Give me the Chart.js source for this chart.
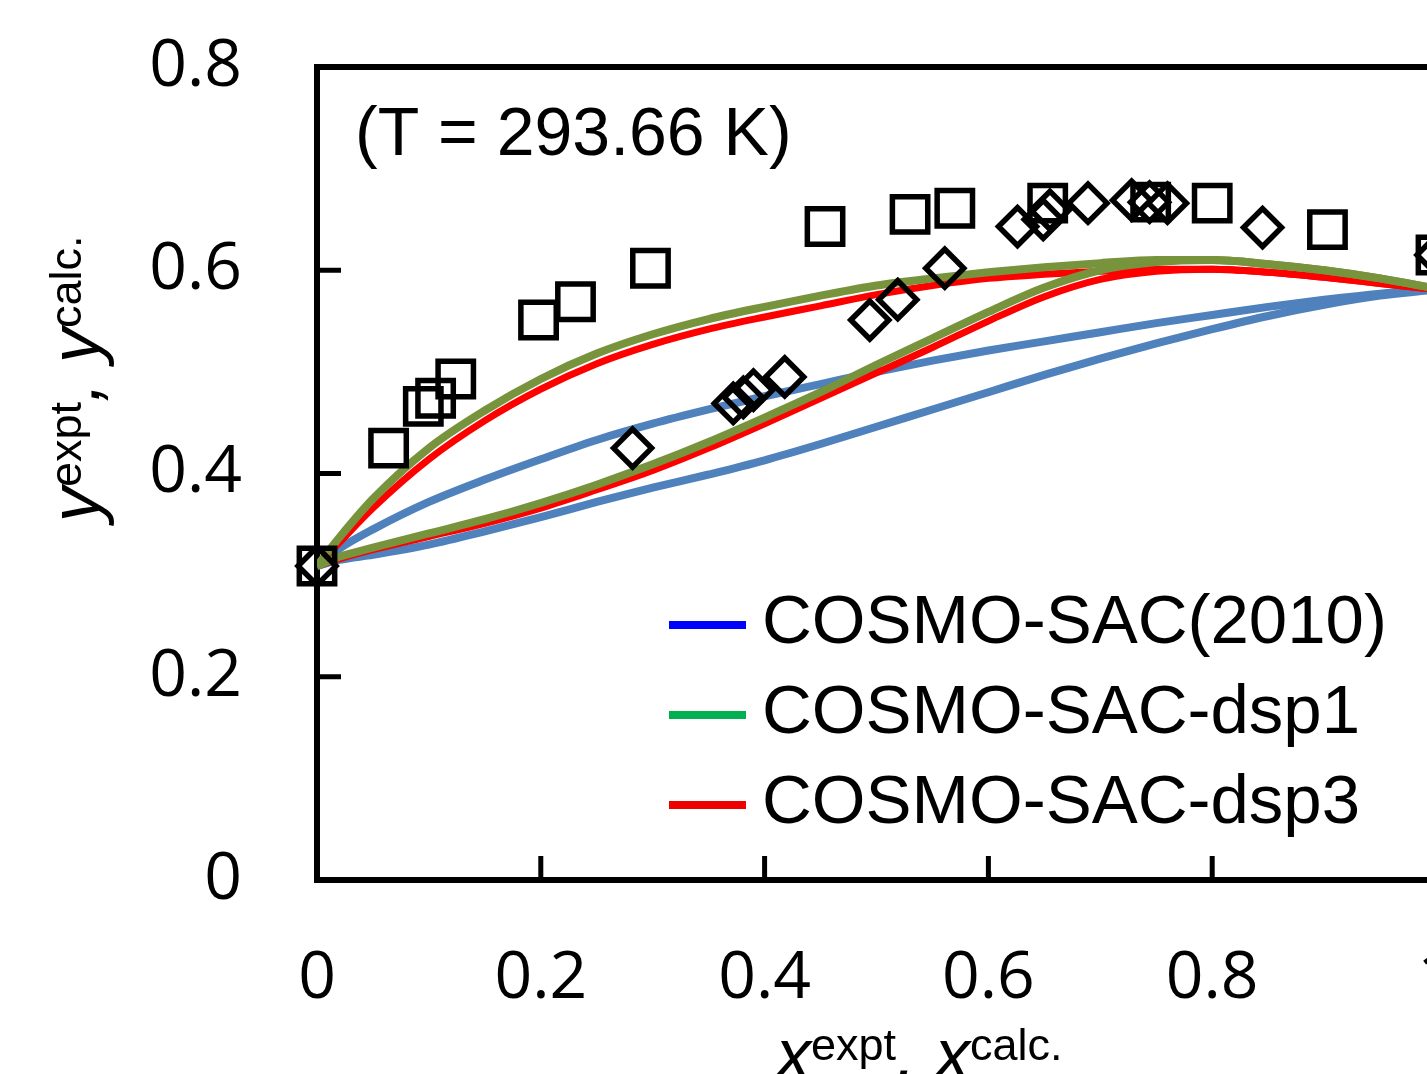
<!DOCTYPE html>
<html lang="en">
<head>
  <meta charset="UTF-8">
  <title>VLE - COSMO-SAC (T = 293.66 K)</title>
  <script src="https://cdn.jsdelivr.net/npm/chart.js"></script>
  <style>
    html, body { margin: 0; padding: 0; overflow: hidden; background: #fff; }
    #caixa { width: 1460px; height: 1074px; }
  </style>
</head>
<body>
  <div id="caixa"><canvas id="grafico" width="1460" height="1074"></canvas></div>
<script>
  // composition grid used for the calculated curves
  const xGrid = [0, 0.02, 0.05, 0.1, 0.15, 0.2, 0.25, 0.3, 0.35, 0.4, 0.45, 0.5,
                 0.55, 0.6, 0.65, 0.7, 0.75, 0.8, 0.85, 0.9, 0.95, 1];

  // COSMO-SAC(2010): upper / lower branch
  const cs2010Up  = [0.309, 0.326, 0.345, 0.372, 0.394, 0.414, 0.433, 0.449, 0.463, 0.476, 0.488, 0.500,
                     0.511, 0.521, 0.530, 0.539, 0.548, 0.556, 0.564, 0.571, 0.577, 0.581];
  const cs2010Low = [0.309, 0.315, 0.320, 0.330, 0.343, 0.357, 0.372, 0.386, 0.399, 0.413, 0.429, 0.446,
                     0.463, 0.480, 0.497, 0.513, 0.528, 0.542, 0.555, 0.566, 0.575, 0.581];

  // COSMO-SAC-dsp1
  const dsp1Up  = [0.309, 0.337, 0.375, 0.425, 0.462, 0.493, 0.518, 0.537, 0.552, 0.564, 0.575, 0.585,
                   0.592, 0.598, 0.603, 0.607, 0.610, 0.610, 0.606, 0.600, 0.592, 0.582];
  const dsp1Low = [0.309, 0.318, 0.327, 0.341, 0.355, 0.371, 0.389, 0.409, 0.431, 0.455, 0.480, 0.507,
                   0.533, 0.559, 0.583, 0.600, 0.608, 0.610, 0.606, 0.600, 0.592, 0.582];

  // COSMO-SAC-dsp3
  const dsp3Up  = [0.309, 0.332, 0.366, 0.414, 0.452, 0.483, 0.508, 0.527, 0.542, 0.554, 0.565, 0.576,
                   0.585, 0.592, 0.596, 0.599, 0.601, 0.601, 0.598, 0.593, 0.587, 0.581];
  const dsp3Low = [0.309, 0.316, 0.325, 0.338, 0.351, 0.366, 0.384, 0.403, 0.425, 0.449, 0.474, 0.499,
                   0.524, 0.550, 0.574, 0.591, 0.599, 0.601, 0.598, 0.593, 0.587, 0.581];

  // experimental points (squares and diamonds)
  const quadX = [0, 0.064, 0.095, 0.106, 0.124, 0.198, 0.231, 0.298, 0.454, 0.530, 0.570, 0.653, 0.745, 0.800, 0.903, 1.0];
  const quadY = [0.309, 0.425, 0.466, 0.474, 0.493, 0.551, 0.569, 0.602, 0.643, 0.655, 0.661, 0.666, 0.667, 0.666, 0.640, 0.615];

  const losX = [0, 0.282, 0.372, 0.381, 0.390, 0.418, 0.494, 0.519, 0.561, 0.626, 0.649, 0.655, 0.689, 0.728, 0.744, 0.760, 0.845, 1.0];
  const losY = [0.309, 0.425, 0.469, 0.475, 0.482, 0.495, 0.551, 0.571, 0.602, 0.643, 0.650, 0.659, 0.666, 0.669, 0.667, 0.666, 0.642, 0.615];

  const xTicks = [0, 0.2, 0.4, 0.6, 0.8, 1];
  const yTicks = [0, 0.2, 0.4, 0.6, 0.8];

  const modelos = ['COSMO-SAC(2010)', 'COSMO-SAC-dsp1', 'COSMO-SAC-dsp3'];
  const coresLinha = ['#4F81BD', '#77933C', '#FF0000'];
  const coresLegenda = ['#0000FF', '#00B050', '#EE0000'];

  function pares(xs, ys) {
    return xs.map((x, i) => ({ x: x, y: ys[i] }));
  }

  function curva(ys, cor, largura) {
    return {
      data: pares(xGrid, ys),
      showLine: true,
      borderColor: cor,
      borderWidth: largura,
      pointRadius: 0,
      cubicInterpolationMode: 'monotone',
      fill: false
    };
  }

  function pontos(xs, ys, estilo, raio) {
    return {
      data: pares(xs, ys),
      showLine: false,
      pointStyle: estilo,
      pointRadius: raio,
      pointBackgroundColor: 'rgba(0,0,0,0)',
      pointBorderColor: '#000',
      pointBorderWidth: 5.5,
      clip: false
    };
  }

  // draws text with superscripts: [text, isSup]
  function textoSup(ctx, partes, fonteMain, fonteSup, subida) {
    let pos = 0;
    partes.forEach(p => {
      ctx.font = p[1] ? fonteSup : fonteMain;
      ctx.fillText(p[0], pos, p[1] ? -subida : 0);
      pos += ctx.measureText(p[0]).width;
    });
  }

  const extras = {
    id: 'extras',
    beforeDatasetsDraw(chart) {
      const ctx = chart.ctx;
      const a = chart.chartArea;
      const sx = chart.scales.x, sy = chart.scales.y;
      ctx.save();
      ctx.strokeStyle = '#000';
      // tick marks pointing inward
      ctx.lineWidth = 5;
      ctx.beginPath();
      sy.ticks.forEach(t => {
        const py = sy.getPixelForValue(t.value);
        ctx.moveTo(a.left, py);
        ctx.lineTo(a.left + 24, py);
      });
      sx.ticks.forEach(t => {
        const px = sx.getPixelForValue(t.value);
        ctx.moveTo(px, a.bottom);
        ctx.lineTo(px, a.bottom - 24);
      });
      ctx.stroke();
      // frame
      ctx.lineWidth = 6;
      ctx.strokeRect(a.left, a.top, a.right - a.left, a.bottom - a.top);
      ctx.restore();
    },
    afterDraw(chart) {
      const ctx = chart.ctx;
      const a = chart.chartArea;
      ctx.save();
      ctx.fillStyle = '#000';
      ctx.textBaseline = 'alphabetic';

      // temperature label
      ctx.font = '68px "Liberation Sans", Arial, sans-serif';
      ctx.fillText('(T = 293.66 K)', a.left + 38, a.top + 88);

      // legend
      for (let i = 0; i < modelos.length; i++) {
        const yl = a.top + 558 + i * 90;
        ctx.strokeStyle = coresLegenda[i];
        ctx.lineWidth = 8;
        ctx.beginPath();
        ctx.moveTo(a.left + 352, yl);
        ctx.lineTo(a.left + 429, yl);
        ctx.stroke();
        ctx.font = '69px "Liberation Sans", Arial, sans-serif';
        ctx.fillText(modelos[i], a.left + 445, yl + 18);
      }

      const fMain = 'italic 70px "Liberation Sans", Arial, sans-serif';
      const fSup = '45px "Liberation Sans", Arial, sans-serif';

      // x axis title
      ctx.save();
      ctx.translate(a.left + 459, 1078);
      textoSup(ctx, [['x', false], ['expt', true], [', ', false], ['x', false], ['calc.', true]], fMain, fSup, 18);
      ctx.restore();

      // y axis title (rotated)
      ctx.save();
      ctx.translate(99, 522);
      ctx.rotate(-Math.PI / 2);
      textoSup(ctx, [['y', false], ['expt', true], [', ', false], ['y', false], ['calc.', true]], fMain, fSup, 18);
      ctx.restore();

      ctx.restore();
    }
  };

  const ctx = document.getElementById('grafico').getContext('2d');

  new Chart(ctx, {
    type: 'scatter',
    data: {
      datasets: [
        pontos(quadX, quadY, 'rect', 25),
        pontos(losX, losY, 'rectRot', 19),
        curva(dsp1Up, coresLinha[1], 8),
        curva(dsp1Low, coresLinha[1], 8),
        curva(dsp3Up, coresLinha[2], 7),
        curva(dsp3Low, coresLinha[2], 7),
        curva(cs2010Up, coresLinha[0], 8),
        curva(cs2010Low, coresLinha[0], 8)
      ]
    },
    options: {
      responsive: false,
      animation: false,
      events: [],
      layout: { autoPadding: false, padding: { top: 67, right: 24, left: 0, bottom: 0 } },
      plugins: {
        legend: { display: false },
        tooltip: { enabled: false }
      },
      scales: {
        x: {
          type: 'linear',
          min: 0,
          max: 1,
          afterBuildTicks: s => { s.ticks = xTicks.map(v => ({ value: v })); },
          afterFit: s => { s.height = 194; s.paddingLeft = 0; s.paddingRight = 0; },
          grid: { display: false, drawTicks: false },
          border: { display: false },
          ticks: {
            padding: 60,
            color: '#000',
            font: { family: '"Open Sans", "Noto Sans", sans-serif', size: 66 },
            callback: v => String(v)
          }
        },
        y: {
          type: 'linear',
          min: 0,
          max: 0.8,
          afterBuildTicks: s => { s.ticks = yTicks.map(v => ({ value: v })); },
          afterFit: s => { s.width = 317; s.paddingTop = 0; s.paddingBottom = 0; },
          grid: { display: false, drawTicks: false },
          border: { display: false },
          ticks: {
            padding: 75,
            color: '#000',
            font: { family: '"Open Sans", "Noto Sans", sans-serif', size: 66 },
            callback: v => String(v)
          }
        }
      }
    },
    plugins: [extras]
  });
</script>
</body>
</html>
